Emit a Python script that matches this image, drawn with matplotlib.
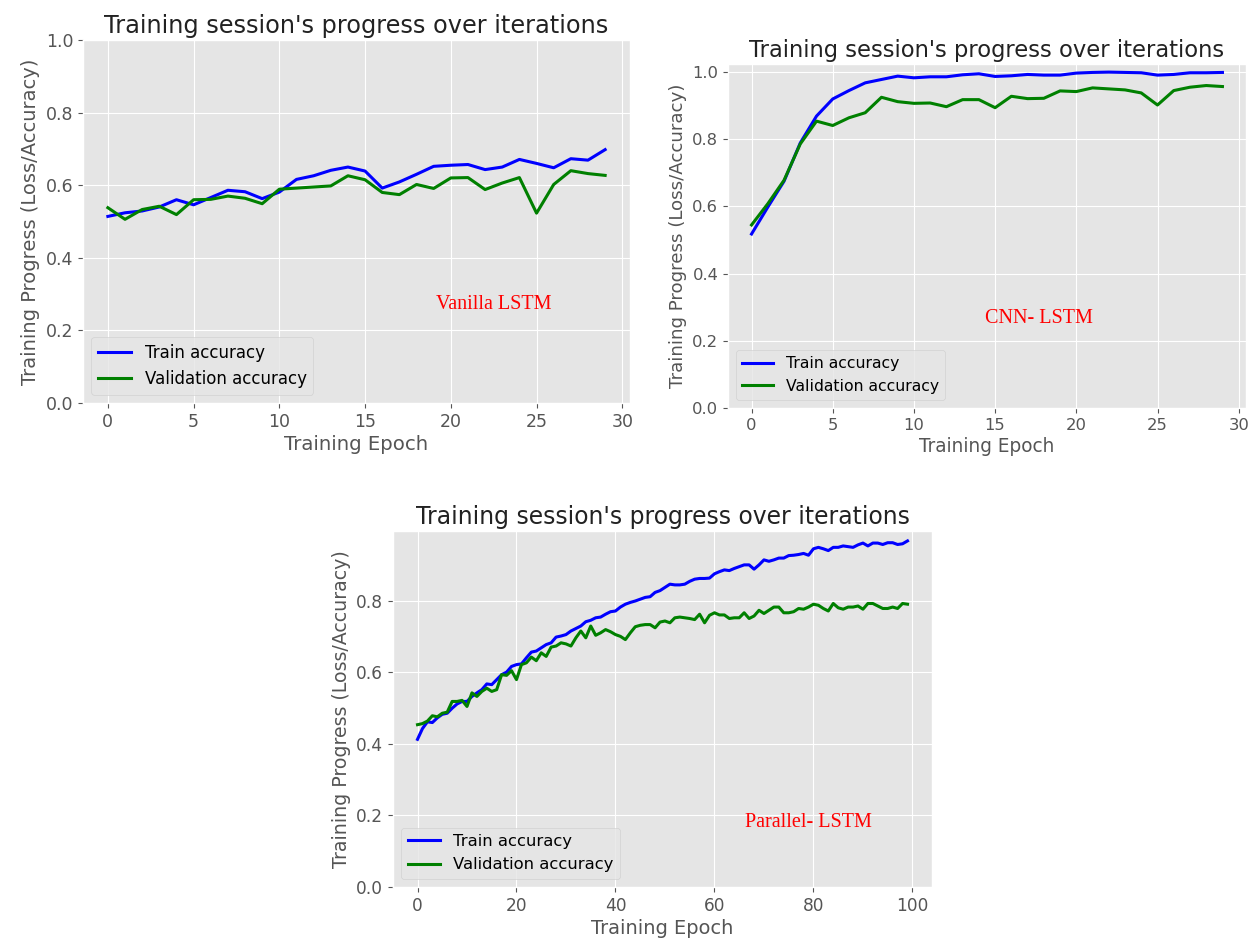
import numpy as np
import matplotlib.pyplot as plt

plt.style.use('ggplot')

# Vanilla LSTM, 30 epochs
vanilla_train = [0.514, 0.524, 0.529, 0.540, 0.560, 0.546, 0.566, 0.586, 0.582, 0.563,
                 0.581, 0.616, 0.626, 0.641, 0.650, 0.639, 0.592, 0.609, 0.630, 0.652,
                 0.655, 0.657, 0.643, 0.650, 0.671, 0.660, 0.648, 0.673, 0.669, 0.698]
vanilla_val = [0.538, 0.506, 0.533, 0.542, 0.519, 0.560, 0.561, 0.570, 0.564, 0.549,
               0.589, 0.592, 0.595, 0.598, 0.626, 0.615, 0.580, 0.574, 0.602, 0.591,
               0.620, 0.621, 0.588, 0.606, 0.621, 0.523, 0.602, 0.640, 0.632, 0.627]

# CNN-LSTM, 30 epochs
cnn_train = [0.518, 0.598, 0.675, 0.789, 0.869, 0.920, 0.945, 0.968, 0.978, 0.988,
             0.983, 0.986, 0.986, 0.992, 0.995, 0.987, 0.989, 0.993, 0.991, 0.991,
             0.997, 0.999, 1.000, 0.999, 0.998, 0.991, 0.993, 0.998, 0.998, 0.999]
cnn_val = [0.545, 0.608, 0.678, 0.786, 0.854, 0.841, 0.864, 0.879, 0.925, 0.912,
           0.907, 0.908, 0.897, 0.918, 0.918, 0.894, 0.928, 0.921, 0.922, 0.944,
           0.942, 0.953, 0.950, 0.947, 0.938, 0.902, 0.945, 0.955, 0.960, 0.957]

# Parallel-LSTM, 100 epochs
parallel_train = [0.413, 0.443, 0.462, 0.460, 0.473, 0.483, 0.486, 0.500, 0.512, 0.519,
                  0.519, 0.533, 0.543, 0.552, 0.568, 0.566, 0.580, 0.594, 0.601, 0.617,
                  0.622, 0.624, 0.641, 0.657, 0.660, 0.669, 0.678, 0.683, 0.699, 0.702,
                  0.706, 0.716, 0.723, 0.730, 0.742, 0.746, 0.753, 0.755, 0.763, 0.770,
                  0.772, 0.783, 0.791, 0.796, 0.800, 0.805, 0.810, 0.812, 0.824, 0.829,
                  0.838, 0.847, 0.845, 0.845, 0.847, 0.855, 0.861, 0.863, 0.863, 0.864,
                  0.876, 0.882, 0.887, 0.885, 0.891, 0.896, 0.901, 0.901, 0.889, 0.901,
                  0.915, 0.911, 0.915, 0.920, 0.920, 0.927, 0.928, 0.930, 0.933, 0.928,
                  0.946, 0.950, 0.946, 0.941, 0.950, 0.950, 0.954, 0.952, 0.950, 0.957,
                  0.962, 0.954, 0.962, 0.962, 0.958, 0.963, 0.963, 0.958, 0.960, 0.968]
parallel_val = [0.454, 0.457, 0.464, 0.479, 0.476, 0.486, 0.489, 0.519, 0.519, 0.522,
                0.505, 0.543, 0.533, 0.547, 0.556, 0.547, 0.552, 0.594, 0.592, 0.605,
                0.580, 0.622, 0.627, 0.643, 0.633, 0.655, 0.645, 0.671, 0.674, 0.683,
                0.680, 0.674, 0.697, 0.716, 0.697, 0.730, 0.704, 0.711, 0.720, 0.714,
                0.706, 0.701, 0.692, 0.711, 0.728, 0.732, 0.734, 0.734, 0.725, 0.741,
                0.744, 0.739, 0.753, 0.755, 0.753, 0.751, 0.748, 0.763, 0.739, 0.760,
                0.767, 0.761, 0.761, 0.751, 0.753, 0.753, 0.767, 0.751, 0.758, 0.774,
                0.765, 0.774, 0.783, 0.783, 0.767, 0.767, 0.770, 0.779, 0.777, 0.783,
                0.791, 0.788, 0.779, 0.772, 0.793, 0.781, 0.777, 0.783, 0.783, 0.786,
                0.777, 0.793, 0.793, 0.786, 0.779, 0.779, 0.783, 0.779, 0.793, 0.791]

W, H = 1260, 942
fig = plt.figure(figsize=(W / 100, H / 100), dpi=100)


def panel(box, train, val, name, name_pos, top=None, scale=1.0):
    left, top_px, right, bottom_px = box
    ax = fig.add_axes([left / W, 1 - bottom_px / H, (right - left) / W, (bottom_px - top_px) / H])
    epochs = np.arange(len(train))
    ax.plot(epochs, train, color='blue', lw=2.2, label='Train accuracy')
    ax.plot(epochs, val, color='green', lw=2.2, label='Validation accuracy')
    ax.set_ylim(bottom=0)
    if top is not None:
        ax.set_ylim(top=top)
    ax.set_title("Training session's progress over iterations", fontsize=17.3 * scale,
                 color='#222222', pad=5)
    ax.set_xlabel('Training Epoch', fontsize=14.2 * scale, color='#555555', labelpad=3)
    ax.set_ylabel('Training Progress (Loss/Accuracy)', fontsize=14 * scale, color='#555555')
    ax.tick_params(labelsize=12.5 * scale, colors='#555555')
    ax.legend(loc='lower left', fontsize=12 * scale)
    ax.text(name_pos[0], name_pos[1], name, transform=ax.transAxes, color='red',
            fontsize=14.5, family='Liberation Serif', ha='center', va='center')
    return ax


panel((83, 40, 630, 403), vanilla_train, vanilla_val, 'Vanilla LSTM', (0.75, 0.27), top=1.0)
panel((728, 64, 1246, 408), cnn_train, cnn_val, 'CNN- LSTM', (0.60, 0.26), scale=0.94)
panel((393, 531, 932, 887), parallel_train, parallel_val, 'Parallel- LSTM', (0.77, 0.18),
      scale=0.98)

fig.savefig('out.png', dpi=100, facecolor='white')
